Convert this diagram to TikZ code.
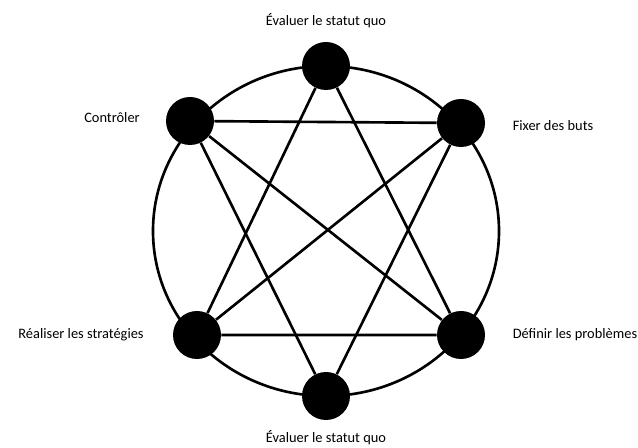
\documentclass[tikz,border=0pt]{standalone}
\usepackage{fontspec}
\setmainfont{Carlito}
\usetikzlibrary{positioning}
\tikzset{
  dot/.style={circle, fill=black, minimum size=48*0.02cm, inner sep=0pt},
  link/.style={line width=1.5pt, draw=black},
  lbl/.style={font=\fontsize{8.2}{10}\selectfont, inner sep=0pt}
}
\begin{document}
\begin{tikzpicture}[x=0.02cm, y=-0.02cm]
  \useasboundingbox (0,0) rectangle (638,448);
  % outer ring
  \draw[link] (326,231) ellipse [x radius=173, y radius=165];
  % six stages
  \node[dot] (top) at (326,66) {};
  \node[dot] (ctrl) at (190,121) {};
  \node[dot] (goal) at (461,123) {};
  \node[dot] (real) at (197,335) {};
  \node[dot] (prob) at (461,335) {};
  \node[dot] (bot) at (326,396) {};
  % star
  \draw[link] (top) -- (real) -- (prob) -- (top);
  \draw[link] (bot) -- (ctrl) -- (goal) -- (bot);
  \draw[link] (ctrl) -- (prob);
  \draw[link] (goal) -- (real);
  % labels
  \node[lbl] (ltop) at (326,21) {Évaluer le statut quo};
  \node[lbl] (lbot) at (326,438) {Évaluer le statut quo};
  \node[lbl] (lctrl) at (112,118) {Contrôler};
  \node[lbl] (lreal) at (81,335) {Réaliser les stratégies};
  \node[lbl] (lgoal) at (553,126) {Fixer des buts};
  \node[lbl] (lprob) at (575,335) {Définir les problèmes};
\end{tikzpicture}
\end{document}
